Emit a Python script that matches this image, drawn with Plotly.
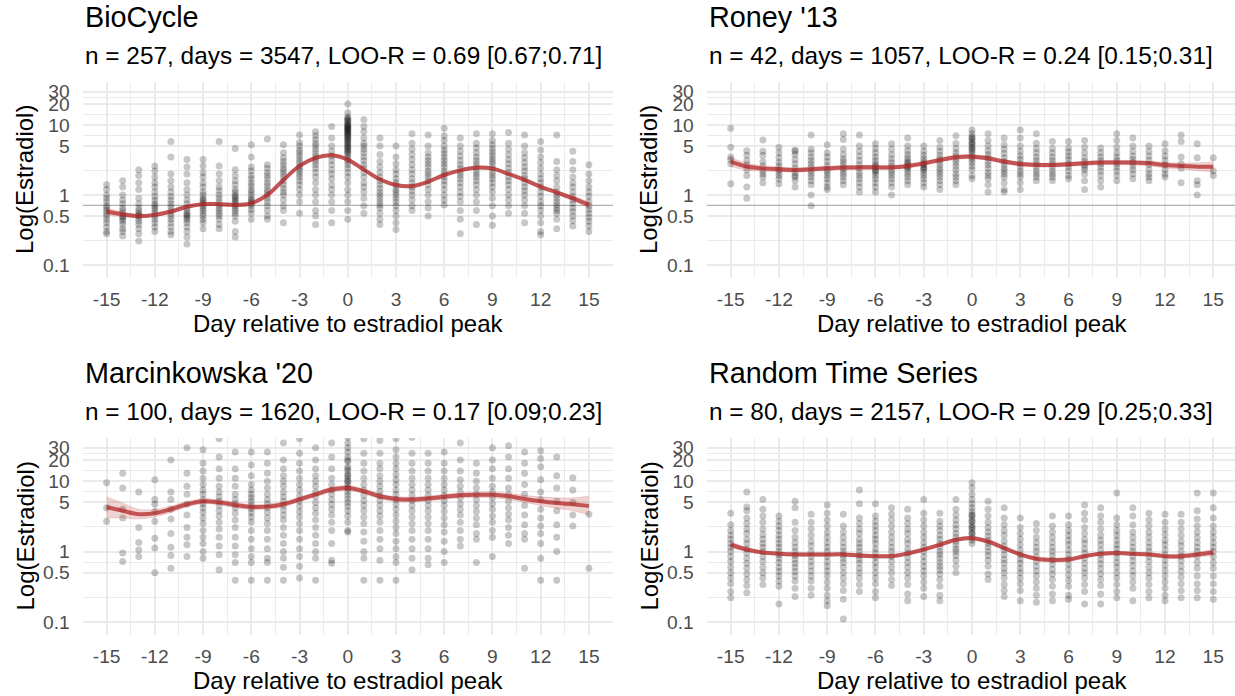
import plotly.graph_objects as go

# ---------------- data ----------------
DAYS = list(range(-15, 16))
X_TICKS = [-15, -12, -9, -6, -3, 0, 3, 6, 9, 12, 15]
X_MINOR = [-13.5, -10.5, -7.5, -4.5, -1.5, 1.5, 4.5, 7.5, 10.5, 13.5]
Y_TICKS = [0.1, 0.5, 1, 5, 10, 20, 30]
Y_TICK_LABELS = ["0.1", "0.5", "1", "5", "10", "20", "30"]
Y_MINOR = [0.2236, 0.7071, 2.236, 7.071, 14.14, 24.49]

TITLES = ["BioCycle", "Roney '13", "Marcinkowska '20", "Random Time Series"]
SUBTITLES = [
    "n = 257, days = 3547, LOO-R = 0.69 [0.67;0.71]",
    "n = 42, days = 1057, LOO-R = 0.24 [0.15;0.31]",
    "n = 100, days = 1620, LOO-R = 0.17 [0.09;0.23]",
    "n = 80, days = 2157, LOO-R = 0.29 [0.25;0.33]",
]
X_TITLE = "Day relative to estradiol peak"
Y_TITLE = "Log(Estradiol)"
REF_LINE = [0.71, 0.71, None, None]

BIO_POINTS = [
    [1.4, 1.2, 1.0, 0.9, 0.8, 0.7, 0.65, 0.6, 0.55, 0.5, 0.45, 0.4, 0.35, 0.3, 0.28],
    [1.6, 1.3, 1.0, 0.85, 0.75, 0.65, 0.6, 0.55, 0.5, 0.48, 0.45, 0.42, 0.38, 0.33, 0.3, 0.26],
    [2.3, 1.9, 1.5, 1.2, 0.9, 0.75, 0.65, 0.6, 0.55, 0.52, 0.5, 0.46, 0.42, 0.38, 0.33, 0.28, 0.22],
    [2.6, 2.2, 1.8, 1.5, 1.3, 1.1, 0.95, 0.85, 0.75, 0.7, 0.65, 0.6, 0.55, 0.5, 0.45, 0.4, 0.35, 0.3],
    [5.8, 3.5, 2.0, 1.6, 1.3, 1.1, 0.95, 0.85, 0.75, 0.68, 0.6, 0.55, 0.5, 0.45, 0.4, 0.35, 0.3, 0.27],
    [3.2, 2.5, 2.0, 1.5, 1.2, 1.0, 0.85, 0.75, 0.65, 0.6, 0.55, 0.52, 0.5, 0.47, 0.44, 0.4, 0.35, 0.3, 0.25, 0.2],
    [3.2, 2.6, 2.1, 1.8, 1.5, 1.3, 1.1, 1.0, 0.9, 0.85, 0.8, 0.75, 0.7, 0.65, 0.6, 0.55, 0.5, 0.45, 0.4, 0.33],
    [5.8, 2.6, 2.0, 1.6, 1.3, 1.15, 1.0, 0.9, 0.8, 0.72, 0.65, 0.6, 0.55, 0.5, 0.45, 0.38, 0.33],
    [4.6, 2.3, 1.9, 1.6, 1.4, 1.2, 1.1, 1.0, 0.95, 0.9, 0.85, 0.8, 0.75, 0.7, 0.65, 0.6, 0.55, 0.5, 0.42, 0.3, 0.25],
    [5.2, 3.5, 2.5, 2.2, 1.9, 1.7, 1.5, 1.35, 1.2, 1.1, 1.0, 0.9, 0.85, 0.8, 0.75, 0.7, 0.62, 0.55, 0.45],
    [6.3, 2.7, 2.4, 2.1, 1.9, 1.7, 1.5, 1.35, 1.2, 1.1, 1.0, 0.9, 0.8, 0.7, 0.6, 0.5, 0.45],
    [5.2, 4.0, 3.4, 3.0, 2.7, 2.4, 2.2, 2.0, 1.8, 1.6, 1.4, 1.25, 1.1, 1.0, 0.85, 0.7, 0.6, 0.4],
    [7.2, 5.6, 5.0, 4.4, 4.0, 3.6, 3.2, 2.9, 2.6, 2.4, 2.2, 2.0, 1.8, 1.6, 1.4, 1.2, 1.0, 0.8, 0.55],
    [8.0, 7.0, 6.2, 5.5, 5.0, 4.5, 4.0, 3.6, 3.3, 3.0, 2.7, 2.4, 2.1, 1.8, 1.5, 1.2, 1.0, 0.8, 0.6, 0.5, 0.38],
    [9.5, 6.5, 5.0, 4.2, 3.6, 3.1, 2.7, 2.3, 2.0, 1.7, 1.4, 1.2, 1.0, 0.8, 0.6, 0.4],
    [20, 15, 13, 12, 11, 10, 9.5, 9, 8.5, 8, 7.5, 7, 6.5, 6, 5.5, 5, 4.6, 4.2, 3.8, 3.5, 3.2, 3.0,
     2.7, 2.4, 2.1, 1.8, 1.5, 1.2, 1.0, 0.8, 0.6, 0.45, 12.5, 11.5, 10.5, 9.8, 9.2, 8.7, 8.2, 7.7,
     7.2, 6.7, 6.2, 5.7, 5.2, 4.8, 4.4, 4.0],
    [12, 9.5, 8, 6.5, 5.5, 5, 4.5, 4, 3.5, 3.1, 2.7, 2.4, 2.1, 1.8, 1.5, 1.3, 1.1, 0.9, 0.7, 0.55],
    [6.5, 5.0, 3.8, 3.0, 2.5, 2.1, 1.8, 1.6, 1.4, 1.25, 1.1, 1.0, 0.9, 0.8, 0.72, 0.65, 0.55, 0.45, 0.38],
    [5.0, 3.5, 2.8, 2.3, 2.0, 1.7, 1.5, 1.35, 1.2, 1.1, 1.0, 0.9, 0.8, 0.7, 0.6, 0.5, 0.4, 0.32],
    [7.5, 5.5, 4.5, 3.8, 3.2, 2.7, 2.3, 2.0, 1.7, 1.5, 1.3, 1.15, 1.0, 0.85, 0.7, 0.6],
    [7.2, 5.0, 4.0, 3.5, 3.1, 2.8, 2.5, 2.2, 2.0, 1.8, 1.6, 1.4, 1.2, 1.0, 0.8, 0.65, 0.5],
    [9.0, 7.0, 6.0, 5.0, 4.4, 3.9, 3.5, 3.1, 2.8, 2.5, 2.2, 2.0, 1.8, 1.6, 1.4, 1.2, 1.0, 0.85, 0.72],
    [6.5, 5.0, 4.2, 3.6, 3.1, 2.7, 2.4, 2.1, 1.9, 1.7, 1.5, 1.3, 1.1, 0.95, 0.8, 0.6, 0.45, 0.28],
    [7.5, 5.5, 4.7, 4.0, 3.5, 3.1, 2.8, 2.5, 2.2, 2.0, 1.8, 1.6, 1.4, 1.2, 1.0, 0.8, 0.6, 0.38],
    [7.5, 6.0, 5.2, 4.6, 4.1, 3.7, 3.3, 3.0, 2.7, 2.4, 2.1, 1.9, 1.7, 1.5, 1.3, 1.1, 0.9, 0.7, 0.5, 0.37],
    [7.8, 5.5, 4.5, 3.8, 3.2, 2.8, 2.4, 2.1, 1.8, 1.6, 1.4, 1.2, 1.0, 0.85, 0.7, 0.55],
    [7.2, 5.0, 4.0, 3.4, 2.9, 2.5, 2.2, 1.9, 1.7, 1.5, 1.3, 1.15, 1.0, 0.85, 0.7, 0.55, 0.4],
    [5.8, 4.4, 3.5, 2.9, 2.4, 2.0, 1.7, 1.5, 1.3, 1.1, 0.95, 0.8, 0.7, 0.6, 0.5, 0.4, 0.3, 0.27],
    [7.2, 3.0, 2.3, 1.9, 1.6, 1.3, 1.1, 1.0, 0.9, 0.8, 0.72, 0.65, 0.6, 0.55, 0.45, 0.33],
    [4.2, 3.0, 2.3, 1.8, 1.5, 1.3, 1.1, 0.95, 0.85, 0.75, 0.65, 0.58, 0.5, 0.43, 0.36],
    [2.7, 2.0, 1.6, 1.3, 1.1, 0.95, 0.8, 0.7, 0.62, 0.55, 0.48, 0.42, 0.36, 0.3],
]

RONEY_POINTS = [
    [9.0, 4.8, 3.5, 3.2, 2.8, 1.45],
    [4.3, 3.7, 3.1, 2.7, 2.3, 1.9, 1.3, 0.9],
    [6.1, 4.2, 3.7, 3.0, 2.6, 2.2, 2.0, 1.8, 1.5],
    [4.8, 4.0, 3.4, 2.9, 2.6, 2.3, 2.1, 1.9, 1.7, 1.45],
    [4.4, 4.2, 3.8, 3.2, 2.8, 2.4, 2.1, 1.9, 1.8, 1.6, 1.3],
    [7.2, 4.5, 4.0, 3.5, 3.1, 2.8, 2.5, 2.2, 2.0, 1.8, 1.6, 1.4, 1.0, 0.7],
    [5.2, 4.0, 3.5, 3.0, 2.6, 2.3, 2.1, 1.9, 1.7, 1.5, 1.3, 1.2],
    [7.5, 6.2, 4.5, 3.8, 3.3, 3.0, 2.7, 2.4, 2.2, 2.0, 1.8, 1.6, 1.4],
    [7.2, 5.0, 4.2, 3.6, 3.1, 2.7, 2.4, 2.1, 1.9, 1.7, 1.5, 1.3, 1.1],
    [5.4, 4.6, 4.0, 3.5, 3.1, 2.8, 2.5, 2.3, 2.1, 1.9, 1.7, 1.5, 1.3, 1.1, 2.6, 2.2],
    [5.4, 4.5, 3.8, 3.3, 2.9, 2.6, 2.3, 2.1, 1.9, 1.7, 1.5, 1.3, 1.0],
    [6.5, 5.0, 4.3, 3.8, 3.4, 3.1, 2.8, 2.6, 2.4, 2.2, 2.0, 1.8, 1.6, 1.4, 2.9, 2.5],
    [5.0, 4.2, 3.7, 3.3, 3.0, 2.7, 2.5, 2.3, 2.1, 1.9, 1.7, 1.5, 1.3, 2.8, 2.4],
    [6.0, 4.8, 4.2, 3.7, 3.3, 3.0, 2.7, 2.4, 2.2, 2.0, 1.8, 1.6, 1.4, 1.2],
    [7.0, 5.5, 4.6, 4.0, 3.6, 3.2, 2.9, 2.6, 2.3, 2.0, 1.8, 1.6, 1.4],
    [8.5, 7.5, 6.8, 6.2, 5.7, 5.2, 4.8, 4.4, 4.1, 3.8, 3.5, 3.2, 2.9, 2.6, 2.3, 1.9, 1.7, 6.5, 5.5, 4.6],
    [7.5, 6.0, 5.0, 4.3, 3.8, 3.4, 3.0, 2.7, 2.4, 2.1, 1.9, 1.7, 1.4, 1.1],
    [6.5, 5.2, 4.5, 3.9, 3.4, 3.0, 2.7, 2.4, 2.2, 2.0, 1.8, 1.5, 1.2, 1.1],
    [8.5, 6.5, 5.0, 4.2, 3.6, 3.2, 2.8, 2.5, 2.2, 2.0, 1.8, 1.5, 1.2],
    [7.5, 5.5, 4.6, 4.0, 3.5, 3.1, 2.8, 2.5, 2.2, 2.0, 1.8, 1.6],
    [5.8, 4.6, 4.0, 3.5, 3.1, 2.8, 2.5, 2.2, 2.0, 1.8, 1.6],
    [5.8, 4.7, 4.1, 3.6, 3.2, 2.8, 2.5, 2.2, 1.9, 1.7],
    [6.0, 4.8, 4.0, 3.4, 3.0, 2.7, 2.5, 2.3, 2.0, 1.6, 1.2],
    [4.7, 4.0, 3.5, 3.1, 2.8, 2.5, 2.2, 1.9, 1.6, 1.3],
    [7.5, 6.0, 4.8, 4.0, 3.5, 3.1, 2.8, 2.5, 2.2, 1.9, 1.6],
    [6.5, 5.0, 4.2, 3.6, 3.2, 2.9, 2.6, 2.3, 2.0, 1.7],
    [5.0, 4.2, 3.6, 3.1, 2.7, 2.3, 2.0, 1.8, 1.6],
    [5.4, 4.3, 3.6, 3.1, 2.7, 2.3, 2.0, 1.8],
    [7.2, 5.8, 3.5, 2.8, 2.4, 1.5],
    [5.4, 3.4, 1.6, 1.4, 1.0],
    [3.4, 2.2, 1.9],
]

MARC_POINTS = [
    [9.5, 4.2, 2.7],
    [13, 8, 4.0, 3.0, 0.95, 0.72],
    [7.0, 2.2, 1.35, 1.05, 0.85],
    [10.5, 5.5, 4.7, 3.7, 2.7, 1.55, 1.12, 0.5],
    [20, 7.0, 5.5, 4.0, 2.9, 1.8, 1.15, 0.88, 0.58],
    [30, 13, 8.5, 6.5, 4.7, 3.3, 2.2, 1.6, 1.25, 0.85],
    [28, 18, 14, 11, 9, 7.5, 6.5, 5.5, 4.8, 4.2, 3.6, 3.0, 2.5, 2.0, 1.6, 1.3, 1.0, 0.8],
    [40, 22, 15, 11, 8.5, 7, 6, 5.2, 4.5, 3.8, 3.2, 2.6, 2.1, 1.6, 1.2, 0.9, 0.55],
    [26, 15, 11, 8.5, 6.5, 5.5, 4.8, 4.2, 3.5, 2.8, 2.2, 1.6, 1.2, 0.9, 0.7, 0.39],
    [26, 17, 12, 9, 7.5, 6.5, 5.8, 5.2, 4.6, 4.1, 3.6, 3.1, 2.6, 2.0, 1.5, 1.1, 0.85, 0.7, 0.39],
    [26, 18, 13, 10, 8, 6.5, 5.5, 4.8, 4.2, 3.6, 3.0, 2.5, 2.0, 1.5, 1.1, 0.8, 0.7, 0.39],
    [35, 20, 15, 12, 10, 8.5, 7, 6, 5.2, 4.5, 3.9, 3.3, 2.8, 2.2, 1.7, 1.3, 1.0, 0.8, 0.6, 0.39],
    [40, 25, 18, 14, 11, 9, 7.5, 6.2, 5.2, 4.4, 3.7, 3.1, 2.5, 2.0, 1.5, 1.1, 0.85, 0.62, 0.42],
    [30, 20, 15, 12, 10, 8.5, 7, 6, 5, 4.2, 3.5, 2.8, 2.2, 1.7, 1.3, 1.0, 0.8, 0.39],
    [35, 22, 15, 11, 9, 7.5, 6.5, 5.5, 4.7, 4.0, 3.3, 2.6, 2.0, 1.3, 0.75, 0.68],
    [42, 35, 30, 26, 22, 19, 16, 14, 12.5, 11, 10, 9, 8, 7, 6.3, 5.6, 5.0, 4.4, 3.8, 3.2, 2.6,
     2.0, 1.9, 20, 15, 12, 10, 8],
    [40, 25, 18, 14, 11, 9, 7.5, 6.3, 5.3, 4.5, 3.8, 3.1, 2.5, 1.9, 1.4, 1.0, 0.8, 0.39],
    [38, 25, 18, 15, 12, 10, 8.5, 7.2, 6.2, 5.3, 4.5, 3.8, 3.2, 2.6, 2.0, 1.5, 1.1, 0.75, 0.39],
    [40, 28, 22, 18, 15, 12.5, 10.5, 9, 7.5, 6.5, 5.5, 4.7, 4.0, 3.3, 2.7, 2.2, 1.8, 1.4, 1.1,
     0.85, 0.7, 0.39],
    [42, 25, 18, 14, 11, 9, 7.5, 6.3, 5.3, 4.5, 3.8, 3.1, 2.5, 2.0, 1.5, 1.1, 0.8, 0.55],
    [25, 18, 14, 11, 9, 7.5, 6.3, 5.3, 4.5, 3.8, 3.1, 2.5, 2.0, 1.5, 1.1, 0.8, 0.65],
    [26, 18, 14, 11, 9, 7.5, 6.3, 5.3, 4.5, 3.7, 3.0, 2.4, 1.9, 1.4, 1.0, 0.7],
    [35, 20, 14, 10.5, 8.5, 7, 5.8, 4.8, 4.0, 3.3, 2.6, 2.0, 1.5, 1.2],
    [18, 13, 10, 8, 6.5, 5.5, 4.5, 3.7, 3.0, 2.4, 1.8, 1.5, 0.7],
    [30, 20, 15, 11, 8.5, 7, 5.8, 4.8, 4.0, 3.2, 2.6, 2.0, 1.6, 0.85],
    [32, 22, 15, 11, 8, 6.5, 5.2, 4.2, 3.4, 2.8, 2.2, 1.7, 1.3],
    [26, 18, 13, 9, 6.5, 4.5, 3.3, 2.4, 1.8, 1.5, 0.58],
    [27, 21, 16, 10.5, 7, 5.5, 4.0, 3.0, 2.3, 1.8, 1.3, 0.8, 0.39],
    [22, 12, 8.0, 5.2, 3.8, 2.4, 1.6, 1.0, 0.39],
    [11.2, 7.5, 5.0, 3.3, 2.3],
    [3.4, 0.58],
]

RAND_POINTS = [
    [3.5, 2.4, 2.0, 1.7, 1.5, 1.3, 1.15, 1.0, 0.85, 0.72, 0.6, 0.5, 0.42, 0.35, 0.27, 0.22],
    [7.0, 4.3, 3.8, 3.0, 2.5, 2.1, 1.8, 1.5, 1.3, 1.1, 0.95, 0.8, 0.68, 0.58, 0.48, 0.4, 0.33, 0.26],
    [5.5, 4.0, 3.2, 2.6, 2.1, 1.75, 1.5, 1.3, 1.15, 1.0, 0.85, 0.72, 0.6, 0.5, 0.42, 0.34],
    [3.2, 2.7, 2.3, 2.0, 1.7, 1.5, 1.3, 1.15, 1.0, 0.9, 0.8, 0.7, 0.6, 0.52, 0.45, 0.38, 0.32, 0.18],
    [5.2, 4.2, 2.6, 2.0, 1.6, 1.35, 1.15, 1.0, 0.88, 0.78, 0.68, 0.6, 0.52, 0.45, 0.38, 0.3, 0.23],
    [3.4, 2.6, 2.1, 1.7, 1.4, 1.2, 1.0, 0.85, 0.72, 0.62, 0.53, 0.45, 0.38, 0.3, 0.24],
    [4.6, 3.5, 2.8, 2.3, 1.9, 1.6, 1.35, 1.15, 1.0, 0.85, 0.72, 0.62, 0.53, 0.45, 0.37, 0.3, 0.24, 0.2, 0.17],
    [3.4, 2.3, 1.9, 1.6, 1.35, 1.15, 1.0, 0.9, 0.8, 0.7, 0.6, 0.5, 0.42, 0.35, 0.28, 0.21, 0.11],
    [7.5, 4.8, 3.0, 2.5, 2.1, 1.8, 1.5, 1.3, 1.15, 1.0, 0.88, 0.78, 0.68, 0.58, 0.5, 0.42, 0.34, 0.27],
    [4.8, 3.2, 2.7, 2.3, 2.0, 1.7, 1.5, 1.3, 1.1, 0.95, 0.82, 0.7, 0.6, 0.5, 0.42, 0.35, 0.27, 0.22],
    [4.2, 3.4, 2.8, 2.3, 1.9, 1.6, 1.35, 1.15, 1.0, 0.85, 0.72, 0.6, 0.5, 0.4, 0.33],
    [4.0, 3.0, 2.5, 2.1, 1.8, 1.5, 1.3, 1.1, 0.95, 0.82, 0.7, 0.6, 0.5, 0.42, 0.34, 0.25, 0.2],
    [5.5, 3.5, 2.8, 2.3, 1.9, 1.6, 1.35, 1.15, 1.0, 0.85, 0.72, 0.62, 0.53, 0.45, 0.37, 0.3, 0.23],
    [3.5, 2.7, 2.3, 2.0, 1.7, 1.5, 1.3, 1.15, 1.0, 0.9, 0.8, 0.7, 0.62, 0.55, 0.48, 0.4, 0.32, 0.24, 0.2],
    [5.5, 4.0, 3.3, 2.8, 2.4, 2.1, 1.8, 1.6, 1.4, 1.25, 1.1, 1.0, 0.88, 0.75, 0.62, 0.5],
    [9.5, 8.0, 6.5, 5.5, 4.8, 4.2, 3.7, 3.3, 3.0, 2.7, 2.4, 2.2, 2.0, 1.8, 1.6, 1.45, 1.3,
     3.3, 2.7, 2.2, 1.8],
    [5.2, 4.0, 3.2, 2.6, 2.2, 1.9, 1.65, 1.45, 1.3, 1.15, 1.0, 0.88, 0.75, 0.62, 0.48, 0.4],
    [4.2, 3.0, 2.4, 2.0, 1.7, 1.4, 1.2, 1.05, 0.9, 0.78, 0.68, 0.58, 0.5, 0.42, 0.34, 0.28, 0.23],
    [3.0, 2.2, 1.8, 1.5, 1.25, 1.05, 0.9, 0.78, 0.68, 0.58, 0.5, 0.42, 0.35, 0.28, 0.2],
    [2.5, 2.0, 1.6, 1.35, 1.15, 1.0, 0.85, 0.72, 0.62, 0.53, 0.45, 0.37, 0.3, 0.24, 0.19],
    [3.2, 2.3, 1.9, 1.6, 1.35, 1.15, 1.0, 0.87, 0.76, 0.66, 0.56, 0.48, 0.4, 0.32, 0.25, 0.2],
    [3.2, 2.4, 2.0, 1.7, 1.45, 1.25, 1.05, 0.9, 0.78, 0.66, 0.56, 0.47, 0.39, 0.32, 0.24, 0.21],
    [4.6, 3.5, 2.8, 2.2, 1.8, 1.5, 1.3, 1.1, 0.95, 0.8, 0.68, 0.58, 0.5, 0.42, 0.34, 0.27, 0.18],
    [4.2, 3.2, 2.6, 2.1, 1.7, 1.45, 1.25, 1.05, 0.9, 0.78, 0.67, 0.57, 0.48, 0.4, 0.33, 0.25, 0.18],
    [6.8, 3.0, 2.4, 2.0, 1.7, 1.45, 1.25, 1.1, 0.95, 0.82, 0.7, 0.6, 0.5, 0.42, 0.34, 0.27, 0.22],
    [4.2, 3.2, 2.4, 1.9, 1.6, 1.35, 1.15, 1.0, 0.86, 0.74, 0.63, 0.53, 0.45, 0.37, 0.3, 0.2],
    [3.5, 2.8, 2.3, 1.9, 1.6, 1.35, 1.15, 1.0, 0.85, 0.72, 0.6, 0.5, 0.42, 0.34, 0.27, 0.22],
    [3.4, 2.6, 2.1, 1.75, 1.45, 1.25, 1.05, 0.9, 0.76, 0.64, 0.54, 0.45, 0.37, 0.3, 0.24, 0.2],
    [3.4, 2.6, 2.1, 1.7, 1.4, 1.2, 1.0, 0.86, 0.74, 0.62, 0.52, 0.43, 0.35, 0.28, 0.22],
    [6.8, 3.8, 2.9, 2.3, 1.9, 1.6, 1.35, 1.15, 1.0, 0.85, 0.7, 0.58, 0.45, 0.35, 0.28, 0.22],
    [6.8, 4.2, 3.0, 2.3, 1.9, 1.6, 1.35, 1.15, 1.0, 0.85, 0.7, 0.58, 0.45, 0.35, 0.27, 0.21],
]

# smooth fit (median) and uncertainty band, per day
BIO_FIT = [0.58, 0.53, 0.50, 0.52, 0.58, 0.68, 0.74, 0.74, 0.72, 0.76, 1.00, 1.64, 2.60, 3.40, 3.70, 3.20,
           2.30, 1.68, 1.39, 1.34, 1.55, 1.93, 2.25, 2.45, 2.38, 2.00, 1.64, 1.31, 1.09, 0.90, 0.72]
BIO_LO = [0.52, 0.49, 0.47, 0.49, 0.55, 0.64, 0.70, 0.70, 0.68, 0.72, 0.95, 1.56, 2.47, 3.23, 3.52, 3.04,
          2.18, 1.60, 1.32, 1.27, 1.47, 1.83, 2.14, 2.33, 2.26, 1.90, 1.56, 1.24, 1.02, 0.83, 0.65]
BIO_HI = [0.65, 0.57, 0.53, 0.55, 0.61, 0.72, 0.78, 0.78, 0.76, 0.80, 1.05, 1.72, 2.73, 3.57, 3.89, 3.36,
          2.42, 1.76, 1.46, 1.41, 1.63, 2.03, 2.36, 2.57, 2.50, 2.10, 1.72, 1.38, 1.16, 0.97, 0.80]

RONEY_FIT = [3.0, 2.55, 2.4, 2.33, 2.28, 2.33, 2.4, 2.46, 2.48, 2.48, 2.48, 2.6, 2.83, 3.16, 3.45, 3.53,
             3.34, 3.0, 2.77, 2.68, 2.68, 2.74, 2.83, 2.9, 2.92, 2.9, 2.83, 2.68, 2.6, 2.54, 2.54]
RONEY_LO = [2.55, 2.25, 2.18, 2.15, 2.12, 2.17, 2.24, 2.30, 2.32, 2.32, 2.32, 2.43, 2.64, 2.95, 3.22, 3.30,
            3.12, 2.80, 2.59, 2.50, 2.50, 2.56, 2.64, 2.71, 2.72, 2.68, 2.60, 2.43, 2.33, 2.22, 2.15]
RONEY_HI = [3.45, 2.85, 2.64, 2.52, 2.45, 2.50, 2.57, 2.63, 2.65, 2.65, 2.65, 2.78, 3.03, 3.38, 3.69, 3.78,
            3.57, 3.21, 2.96, 2.87, 2.87, 2.93, 3.03, 3.10, 3.13, 3.12, 3.06, 2.93, 2.87, 2.88, 2.95]

MARC_FIT = [4.3, 3.8, 3.4, 3.5, 4.0, 4.7, 5.2, 5.0, 4.6, 4.3, 4.35, 4.7, 5.5, 6.5, 7.6, 8.0,
            7.2, 6.1, 5.6, 5.5, 5.7, 6.0, 6.3, 6.4, 6.4, 6.1, 5.6, 5.2, 4.9, 4.7, 4.45]
MARC_LO = [3.0, 3.0, 2.9, 3.1, 3.6, 4.3, 4.8, 4.6, 4.2, 3.95, 4.0, 4.35, 5.1, 6.0, 7.0, 7.4,
           6.65, 5.6, 5.15, 5.05, 5.25, 5.5, 5.8, 5.85, 5.8, 5.5, 5.0, 4.5, 4.1, 3.8, 3.3]
MARC_HI = [6.0, 4.9, 4.0, 4.0, 4.45, 5.15, 5.65, 5.45, 5.0, 4.7, 4.75, 5.1, 5.95, 7.0, 8.25, 8.7,
           7.8, 6.6, 6.05, 5.95, 6.15, 6.5, 6.85, 7.0, 7.05, 6.8, 6.3, 6.0, 5.8, 5.8, 6.1]

RAND_FIT = [1.25, 1.07, 0.97, 0.93, 0.91, 0.91, 0.91, 0.91, 0.88, 0.86, 0.86, 0.94, 1.07, 1.25, 1.47, 1.55,
            1.39, 1.12, 0.91, 0.79, 0.76, 0.77, 0.86, 0.93, 0.95, 0.93, 0.91, 0.86, 0.86, 0.91, 0.97]
RAND_LO = [1.12, 1.00, 0.92, 0.88, 0.86, 0.86, 0.86, 0.86, 0.83, 0.81, 0.81, 0.89, 1.01, 1.18, 1.39, 1.46,
           1.31, 1.05, 0.86, 0.74, 0.71, 0.72, 0.81, 0.88, 0.90, 0.88, 0.86, 0.81, 0.80, 0.84, 0.87]
RAND_HI = [1.39, 1.14, 1.02, 0.98, 0.96, 0.96, 0.96, 0.96, 0.93, 0.91, 0.91, 0.99, 1.13, 1.32, 1.55, 1.64,
           1.47, 1.19, 0.96, 0.84, 0.81, 0.82, 0.91, 0.98, 1.00, 0.98, 0.96, 0.91, 0.92, 0.98, 1.08]

POINTS = [BIO_POINTS, RONEY_POINTS, MARC_POINTS, RAND_POINTS]
FITS = [BIO_FIT, RONEY_FIT, MARC_FIT, RAND_FIT]
LOS = [BIO_LO, RONEY_LO, MARC_LO, RAND_LO]
HIS = [BIO_HI, RONEY_HI, MARC_HI, RAND_HI]

# ---------------- layout geometry (pixels) ----------------
W, H = 1235, 696
FONT = "Liberation Sans, Arial, Helvetica, sans-serif"
PANEL_X = [(82.5, 613.0), (706.6, 1235.0), (82.5, 613.0), (706.6, 1235.0)]
PANEL_Y = [(82.0, 278.0), (82.0, 278.0), (438.0, 635.0), (438.0, 635.0)]
X_RANGES = [[-16.5, 16.5], [-16.5, 16.35], [-16.5, 16.5], [-16.5, 16.35]]
Y_RANGE = [-1.186, 1.614]

GRID = "#EBEBEB"
RED_LINE = "rgba(178,34,34,0.72)"
RED_BAND = "rgba(178,34,34,0.20)"

fig = go.Figure()
annotations = []

for i in range(4):
    sfx = "" if i == 0 else str(i + 1)
    xa, ya = "x" + sfx, "y" + sfx
    pts = POINTS[i]
    xs = [d for d, vals in zip(DAYS, pts) for _ in vals]
    ys = [v for vals in pts for v in vals]

    if REF_LINE[i] is not None:
        fig.add_trace(go.Scatter(x=X_RANGES[i], y=[REF_LINE[i], REF_LINE[i]], mode="lines",
                                 line=dict(color="#B0B0B0", width=1.2), xaxis=xa, yaxis=ya,
                                 hoverinfo="skip", showlegend=False))

    fig.add_trace(go.Scatter(x=xs, y=ys, mode="markers",
                             marker=dict(color="black", size=7, opacity=0.22, line=dict(width=0)),
                             xaxis=xa, yaxis=ya, showlegend=False))

    fig.add_trace(go.Scatter(x=DAYS, y=HIS[i], mode="lines",
                             line=dict(color="rgba(178,34,34,0.12)", width=1, shape="spline"),
                             xaxis=xa, yaxis=ya, showlegend=False, hoverinfo="skip"))
    fig.add_trace(go.Scatter(x=DAYS, y=LOS[i], mode="lines", fill="tonexty", fillcolor=RED_BAND,
                             line=dict(color="rgba(178,34,34,0.12)", width=1, shape="spline"),
                             xaxis=xa, yaxis=ya, showlegend=False, hoverinfo="skip"))
    fig.add_trace(go.Scatter(x=DAYS, y=FITS[i], mode="lines",
                             line=dict(color=RED_LINE, width=4, shape="spline"),
                             xaxis=xa, yaxis=ya, showlegend=False))

    x0, x1 = PANEL_X[i]
    y0, y1 = PANEL_Y[i]
    fig.layout["xaxis" + sfx] = dict(
        domain=[x0 / W, x1 / W], anchor=ya, range=X_RANGES[i],
        tickmode="array", tickvals=X_TICKS, ticktext=[str(t) for t in X_TICKS],
        showgrid=True, gridcolor=GRID, gridwidth=2.2, zeroline=False, showline=False,
        ticks="outside", ticklen=4, tickcolor="rgba(0,0,0,0)",
        tickfont=dict(family=FONT, size=19.2, color="#4D4D4D"),
        minor=dict(tickmode="array", tickvals=X_MINOR, showgrid=True, gridcolor=GRID, gridwidth=1.1),
    )
    fig.layout["yaxis" + sfx] = dict(
        domain=[1 - y1 / H, 1 - y0 / H], anchor=xa, type="log", range=Y_RANGE,
        tickmode="array", tickvals=Y_TICKS, ticktext=Y_TICK_LABELS,
        showgrid=True, gridcolor=GRID, gridwidth=2.2, zeroline=False, showline=False,
        ticks="outside", ticklen=8, tickcolor="rgba(0,0,0,0)",
        tickfont=dict(family=FONT, size=19.2, color="#4D4D4D"),
        minor=dict(tickmode="array", tickvals=Y_MINOR, showgrid=True, gridcolor=GRID, gridwidth=1.1),
    )

    # titles / subtitles
    annotations.append(dict(text=TITLES[i], xref="paper", yref="paper", x=x0 / W, y=1 - (y0 - 65) / H,
                            xanchor="left", yanchor="middle", showarrow=False,
                            font=dict(family=FONT, size=28.8, color="black")))
    annotations.append(dict(text=SUBTITLES[i], xref="paper", yref="paper", x=x0 / W, y=1 - (y0 - 27) / H,
                            xanchor="left", yanchor="middle", showarrow=False,
                            font=dict(family=FONT, size=24.4, color="black")))
    # axis titles
    annotations.append(dict(text=X_TITLE, xref="paper", yref="paper", x=(x0 + 530.5 / 2) / W,
                            y=1 - (y1 + 45) / H, xanchor="center", yanchor="middle", showarrow=False,
                            font=dict(family=FONT, size=24, color="black")))
    annotations.append(dict(text=Y_TITLE, xref="paper", yref="paper", x=(x0 - 57.5) / W,
                            y=1 - ((y0 + y1) / 2) / H, xanchor="center", yanchor="middle",
                            textangle=-90, showarrow=False,
                            font=dict(family=FONT, size=24, color="black")))

fig.update_layout(
    width=W, height=H, margin=dict(l=0, r=0, t=0, b=0),
    paper_bgcolor="white", plot_bgcolor="white",
    annotations=annotations, showlegend=False,
    font=dict(family=FONT),
)

fig.write_html("out.html")
